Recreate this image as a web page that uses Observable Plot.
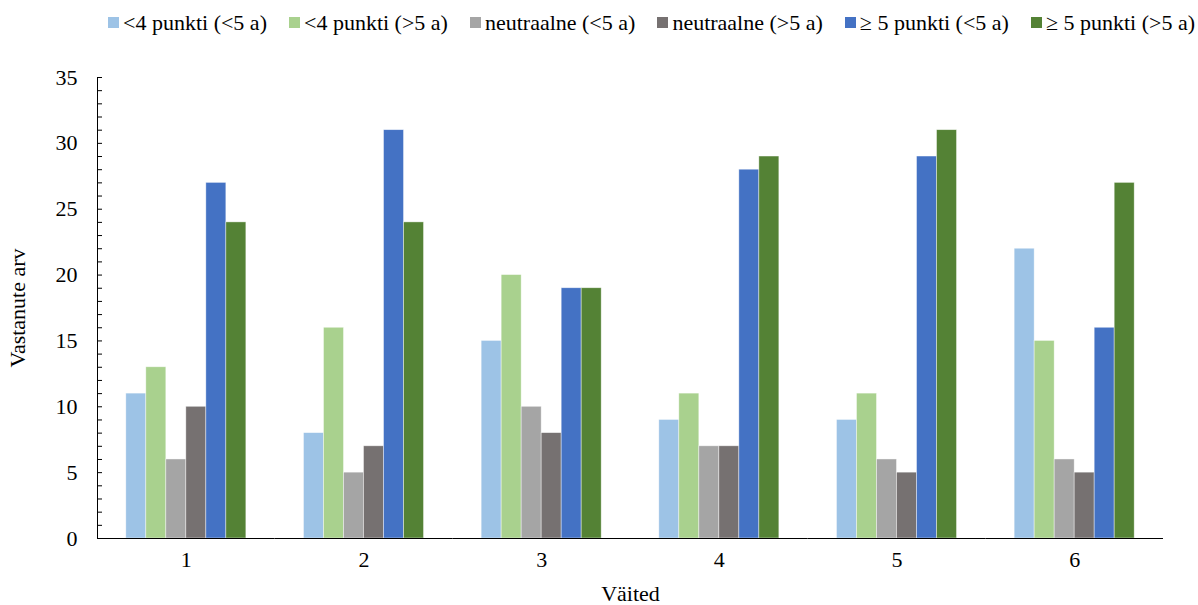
<!DOCTYPE html>
<html><head><meta charset="utf-8">
<script src="https://cdn.jsdelivr.net/npm/d3@7"></script>
<script src="https://cdn.jsdelivr.net/npm/@observablehq/plot@0.6"></script>
<style>
body{margin:0;background:#fff;font-family:"Liberation Serif","Times New Roman","DejaVu Serif",serif;}
#legend{display:flex;align-items:center;height:45px;padding-left:108px;font-size:22px;color:#000;white-space:nowrap;box-sizing:border-box;}
.item{display:flex;align-items:center;margin-right:22px;}
.sw{width:11px;height:11px;margin-right:4px;}
#chart svg, #chart svg text{font-family:"Liberation Serif","Times New Roman","DejaVu Serif",serif !important;}
</style></head><body><div id="legend"></div><div id="chart"></div>
<script>
const categories = ["1", "2", "3", "4", "5", "6"];
const series = ["<4 punkti (<5 a)", "<4 punkti (>5 a)", "neutraalne (<5 a)", "neutraalne (>5 a)", "≥ 5 punkti (<5 a)", "≥ 5 punkti (>5 a)"];
const colors = ["#9DC3E6", "#A9D18E", "#A5A5A5", "#767171", "#4472C4", "#548235"];
const lt4Under5 = [11, 8, 15, 9, 9, 22];
const lt4Over5 = [13, 16, 20, 11, 11, 15];
const neutUnder5 = [6, 5, 10, 7, 6, 6];
const neutOver5 = [10, 7, 8, 7, 5, 5];
const ge5Under5 = [27, 31, 19, 28, 29, 16];
const ge5Over5 = [24, 24, 19, 29, 31, 27];
const yTicks = [0, 5, 10, 15, 20, 25, 30, 35];

const values = [lt4Under5, lt4Over5, neutUnder5, neutOver5, ge5Under5, ge5Over5];
const data = categories.flatMap((c, i) => series.map((s, j) => ({cat: c, series: s, value: values[j][i]})));

const legend = document.getElementById("legend");
series.forEach((s, j) => {
  const it = document.createElement("div"); it.className = "item";
  const sw = document.createElement("div"); sw.className = "sw"; sw.style.background = colors[j];
  const tx = document.createElement("span"); tx.textContent = s;
  it.appendChild(sw); it.appendChild(tx); legend.appendChild(it);
});

const chart = Plot.plot({
  width: 1198, height: 560,
  marginTop: 32, marginBottom: 67, marginLeft: 97, marginRight: 35,
  style: {fontFamily: "'Liberation Serif', 'Times New Roman', serif", fontSize: "22px", color: "#000", background: "#fff"},
  fx: {domain: categories, padding: 0, round: false},
  x: {domain: series, paddingInner: 0, paddingOuter: 1.44, round: false, axis: null},
  y: {domain: [0, 35]},
  color: {domain: series, range: colors},
  marks: [
    Plot.axisY({ticks: yTicks, tickSize: 0, tickPadding: 20, label: "Vastanute arv", labelAnchor: "center", labelOffset: 88, labelArrow: "none"}),
    Plot.axisY({ticks: d3.range(0, 36), tickSize: 5, dx: 5, text: null, label: null, stroke: "#000"}),
    Plot.frame({anchor: "left", facetAnchor: "left", stroke: "#000"}),
    Plot.axisFx({anchor: "bottom", tickSize: 0, tickPadding: 13, label: "Väited", labelAnchor: "center", labelOffset: 62}),
    Plot.barY(data, {fx: "cat", x: "series", y: "value", fill: "series", stroke: "#fff", strokeOpacity: 0.6, strokeWidth: 0.7}),
    Plot.ruleY([0], {stroke: "#000"})
  ]
});
document.getElementById("chart").appendChild(chart);
</script></body></html>
